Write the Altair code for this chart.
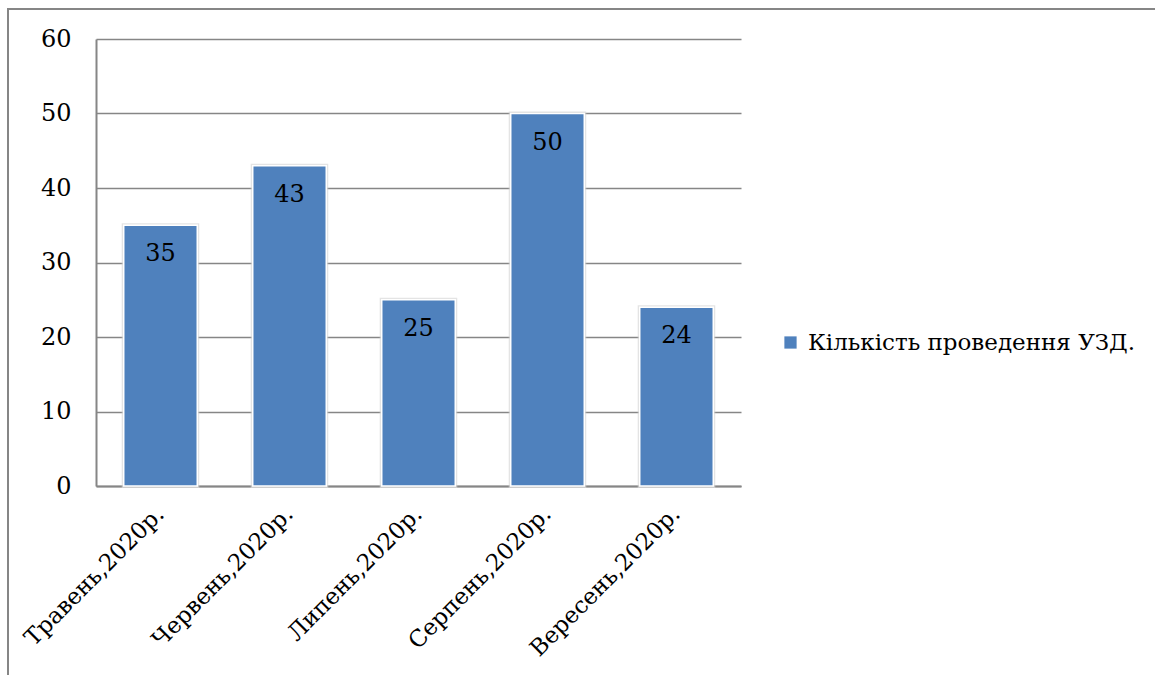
import altair as alt
import pandas as pd

# Monthly count of ultrasound examinations (УЗД), 2020
months = ["Травень,2020р.", "Червень,2020р.", "Липень,2020р.", "Серпень,2020р.", "Вересень,2020р."]
counts = [35, 43, 25, 50, 24]
series_name = "Кількість проведення УЗД."
y_ticks = [0, 10, 20, 30, 40, 50, 60]

df = pd.DataFrame({"month": months, "count": counts, "series": [series_name] * len(months)})

FONT = "DejaVu Serif"
GRID = "#868686"
BLUE = "#4F81BD"

x_enc = alt.X(
    "month:N",
    sort=months,
    title=None,
    scale=alt.Scale(paddingInner=0.43, paddingOuter=0.215),
    axis=alt.Axis(
        labelAngle=-45,
        labelAlign="right",
        labelBaseline="middle",
        labelPadding=24,
        labelFont=FONT,
        labelFontSize=23,
        labelColor="#000000",
        labelLimit=400,
        ticks=False,
        domainColor=GRID,
        domainWidth=2,
        grid=False,
    ),
)
y_enc = alt.Y(
    "count:Q",
    title=None,
    scale=alt.Scale(domain=[0, 60], nice=False),
    axis=alt.Axis(
        values=y_ticks,
        labelFont=FONT,
        labelFontSize=24,
        labelColor="#000000",
        labelPadding=25,
        ticks=False,
        domainColor=GRID,
        domainWidth=2,
        gridColor=GRID,
        gridWidth=1.5,
    ),
)

base = alt.Chart(df)

# soft halo around each bar
halo = base.mark_bar(stroke="#d9d9d9", strokeWidth=4, fill=BLUE, strokeOpacity=0.7).encode(
    x=x_enc, y=y_enc
)

bars = base.mark_bar(stroke="#ffffff", strokeWidth=1.5).encode(
    x=x_enc,
    y=y_enc,
    color=alt.Color(
        "series:N",
        scale=alt.Scale(range=[BLUE]),
        legend=alt.Legend(
            title=None,
            orient="none",
            legendX=683,
            legendY=292,
            symbolType="square",
            symbolSize=150,
            symbolStrokeWidth=0,
            labelFont=FONT,
            labelFontSize=23,
            labelColor="#000000",
            labelOffset=6,
            labelLimit=500,
        ),
    ),
)

labels = base.mark_text(font=FONT, fontSize=24, color="#000000", dy=29, baseline="middle").encode(
    x=alt.X("month:N", sort=months),
    y=alt.Y("count:Q"),
    text=alt.Text("count:Q"),
)

# outer chart frame
frame = alt.Chart(pd.DataFrame({"k": [0]})).mark_rect(
    fill=None, stroke=GRID, strokeWidth=2, clip=False
).encode(
    x=alt.value(-88), x2=alt.value(1200), y=alt.value(-30), y2=alt.value(700)
)

chart = (
    alt.layer(frame, halo, bars, labels)
    .properties(
        width=645,
        height=447,
        padding={"left": 96, "top": 39, "right": 414, "bottom": 189},
        autosize=alt.AutoSizeParams(type="none"),
        background="#ffffff",
    )
    .configure_view(stroke=None)
)

chart.save("out.html", embed_options={"renderer": "svg", "actions": False})
